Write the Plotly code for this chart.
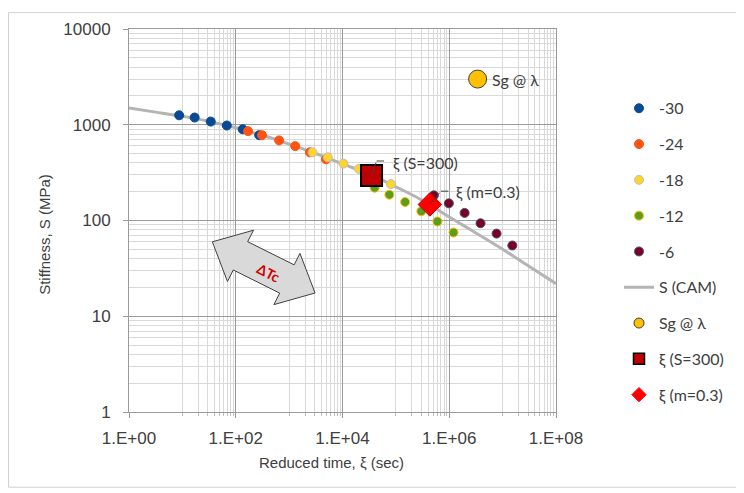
import numpy as np
import plotly.graph_objects as go

# ---------------- data ----------------
temps = ["-30", "-24", "-18", "-12", "-6"]
xi_m30 = [8.7, 17, 34, 68, 135, 275]
S_m30 = [1255, 1190, 1080, 982, 898, 778]
xi_m24 = [170, 310, 650, 1300, 2450, 4900]
S_m24 = [857, 778, 686, 598, 515, 436]
xi_m18 = [2750, 5300, 10400, 20300, 40000, 80500]
S_m18 = [515, 457, 393, 346, 290, 240]
xi_m12 = [40000, 75500, 149000, 300000, 600000, 1200000]
S_m12 = [220, 186, 156, 125, 97.7, 74.9]
xi_m6 = [515000, 984000, 1940000, 3860000, 7700000, 15200000]
S_m6 = [183, 151, 120, 93.6, 73, 54.8]

cam_xi = [1, 3.16, 10, 31.6, 100, 316, 1e3, 3.16e3, 1e4, 3.16e4, 1e5, 3.16e5,
          1e6, 3.16e6, 1e7, 3.16e7, 1e8]
cam_S = [1493, 1355, 1225, 1084, 931, 776, 628, 501, 390, 305, 225, 162,
         109, 74.1, 50.1, 33.1, 21.9]

sg_xi = [3.4e6]
sg_S = [3000]
s300_xi = [35000]
s300_S = [295]
m03_xi = [433000]
m03_S = [147]

x_tickvals = [1, 1e2, 1e4, 1e6, 1e8]
x_ticktext = ["1.E+00", "1.E+02", "1.E+04", "1.E+06", "1.E+08"]
y_tickvals = [1, 10, 100, 1000, 10000]
y_ticktext = ["1", "10", "100", "1000", "10000"]

# minor grid positions
x_minor = [k * 10.0 ** e for e in (1, 3, 5, 7) for k in range(1, 10)]
y_minor = [k * 10.0 ** e for e in (0, 1, 2, 3) for k in range(2, 10)]

# ---------------- styles ----------------
cols = {"-30": "#0a4a94", "-24": "#ff5311", "-18": "#ffd42a",
        "-12": "#5b9e1f", "-6": "#7a0026"}
edge = {"-30": "#0a4a94", "-24": "#ff5311", "-18": "#bfbfbf",
        "-12": "#ffc000", "-6": "#44546a"}
series = {"-30": (xi_m30, S_m30), "-24": (xi_m24, S_m24),
          "-18": (xi_m18, S_m18), "-12": (xi_m12, S_m12),
          "-6": (xi_m6, S_m6)}

LEG_FONT = dict(family="Lato", size=16, color="#404040")
AX_FONT = dict(family="Liberation Sans", size=17, color="#404040")

fig = go.Figure()

# CAM line (drawn behind points)
fig.add_trace(go.Scatter(x=cam_xi, y=cam_S, mode="lines", line_shape="spline",
                         line=dict(color="#b4b4b4", width=3), showlegend=False,
                         hoverinfo="skip"))

for t in temps:
    xs, ys = series[t]
    fig.add_trace(go.Scatter(x=xs, y=ys, mode="markers", showlegend=False,
                             marker=dict(size=9, color=cols[t],
                                         line=dict(color=edge[t], width=1))))

fig.add_trace(go.Scatter(x=sg_xi, y=sg_S, mode="markers", showlegend=False,
                         marker=dict(size=18, color="#ffc000",
                                     line=dict(color="#404040", width=1))))
fig.add_trace(go.Scatter(x=s300_xi, y=s300_S, mode="markers", showlegend=False,
                         marker=dict(size=21, symbol="square", color="#c00000",
                                     line=dict(color="#000000", width=2))))
fig.add_trace(go.Scatter(x=m03_xi, y=m03_S, mode="markers", showlegend=False,
                         marker=dict(size=18, symbol="diamond", color="#ff0000",
                                     line=dict(color="#c00000", width=1))))

# legend-only entries
for t in temps:
    fig.add_trace(go.Scatter(x=[None], y=[None], mode="markers", name=t,
                             legendgroup=t,
                             marker=dict(size=9, color=cols[t],
                                         line=dict(color=edge[t], width=1))))
fig.add_trace(go.Scatter(x=[None], y=[None], mode="lines", name="S (CAM)",
                         legendgroup="cam", line=dict(color="#b4b4b4", width=3)))
fig.add_trace(go.Scatter(x=[None], y=[None], mode="markers", name="Sg @ λ",
                         legendgroup="sg",
                         marker=dict(size=10, color="#ffc000",
                                     line=dict(color="#404040", width=1))))
fig.add_trace(go.Scatter(x=[None], y=[None], mode="markers", name="ξ (S=300)",
                         legendgroup="s300",
                         marker=dict(size=11, symbol="square", color="#c00000",
                                     line=dict(color="#000000", width=1.5))))
fig.add_trace(go.Scatter(x=[None], y=[None], mode="markers", name="ξ (m=0.3)",
                         legendgroup="m03",
                         marker=dict(size=11, symbol="diamond", color="#ff0000",
                                     line=dict(color="#ff0000", width=1))))

# ---------------- layout geometry (page pixel coordinates) ----------------
PAGE_W, PAGE_H = 744, 493
OFF = 8                      # default body margin of the html page
W, H = PAGE_W - OFF, PAGE_H - OFF
L, R, T, B = 129, 556, 25, 412   # plot area in page pixels


def to_paper(px, py):
    return (px - L) / (R - L), (B - py) / (B - T)


shapes = []
# outer chart border
x0, y0 = to_paper(8.5, 488)
x1, y1 = to_paper(737, 8.5)
shapes.append(dict(type="rect", xref="paper", yref="paper", x0=x0, y0=y0,
                   x1=x1, y1=y1, line=dict(color="#d0d0d0", width=1),
                   layer="below"))

# Delta Tc double block arrow
cx, cy = 263.7, 265.9
ang = np.arctan2(51.7, 102.7)
ca, sa = np.cos(ang), np.sin(ang)
local = [(-57.5, 0), (-26, -29), (-26, -16), (26, -16), (26, -29), (57.5, 0),
         (26, 29), (26, 16), (-26, 16), (-26, 29)]
path = ""
for i, (u, v) in enumerate(local):
    px = cx + u * ca - v * sa
    py = cy + u * sa + v * ca
    X, Y = to_paper(px, py)
    path += ("M" if i == 0 else "L") + f"{X:.5f},{Y:.5f} "
path += "Z"
shapes.append(dict(type="path", xref="paper", yref="paper", path=path,
                   fillcolor="#d9d9d9", line=dict(color="#404040", width=1)))

annotations = []
tx, ty = to_paper(268, 270.7)
annotations.append(dict(x=tx, y=ty, xref="paper", yref="paper", text="<b>ΔTc</b>",
                        showarrow=False, textangle=27, xanchor="center",
                        yanchor="middle",
                        font=dict(family="Lato", size=14, color="#d00000")))

# axis titles
tx, ty = to_paper(331, 463)
annotations.append(dict(x=tx, y=ty, xref="paper", yref="paper",
                        text="Reduced time, ξ (sec)", showarrow=False,
                        xanchor="center", yanchor="middle",
                        font=dict(family="Liberation Sans", size=15, color="#404040")))
tx, ty = to_paper(45, 233)
annotations.append(dict(x=tx, y=ty, xref="paper", yref="paper",
                        text="Stiffness, S (MPa)", showarrow=False, textangle=-90,
                        xanchor="center", yanchor="middle",
                        font=dict(family="Liberation Sans", size=15, color="#404040")))

lg = np.log10
# Sg label
annotations.append(dict(x=lg(sg_xi[0]), y=lg(sg_S[0]), xref="x", yref="y",
                        text="Sg @ λ", showarrow=False, xanchor="left",
                        yanchor="middle", xshift=12, font=LEG_FONT))


def leader(xv, yv, dx1, dy1, dx2, label, tdx, tdy):
    a = lg(xv)
    b = lg(yv)
    annotations.append(dict(x=a, y=b, xref="x", yref="y", text="",
                            showarrow=True, arrowhead=0, arrowwidth=1,
                            arrowcolor="#404040", axref="pixel", ayref="pixel",
                            ax=dx1, ay=dy1, standoff=0, startstandoff=0))
    annotations.append(dict(x=a, y=b, xref="x", yref="y", text="",
                            showarrow=True, arrowhead=0, arrowwidth=1,
                            arrowcolor="#404040", xshift=dx1, yshift=-dy1,
                            ax=dx2, ay=0, standoff=0, startstandoff=0))
    annotations.append(dict(x=a, y=b, xref="x", yref="y", text=label,
                            showarrow=False, xanchor="left", yanchor="middle",
                            xshift=tdx, yshift=tdy, font=LEG_FONT))


leader(s300_xi[0], s300_S[0], 5, -14.5, 9, "ξ (S=300)", 19, 13)
leader(m03_xi[0], m03_S[0], 11, -13.3, 9, "ξ (m=0.3)", 24, 12)

fig.update_layout(
    width=W, height=H, autosize=False,
    margin=dict(l=L - OFF, r=PAGE_W - R, t=T - OFF, b=PAGE_H - B, pad=0),
    plot_bgcolor="white", paper_bgcolor="white",
    shapes=shapes, annotations=annotations,
    legend=dict(x=(619 - L) / (R - L), xanchor="left",
                y=(B - 88) / (B - T), yanchor="top",
                font=LEG_FONT, tracegroupgap=12, bgcolor="rgba(0,0,0,0)",
                traceorder="grouped"),
    xaxis=dict(type="log", range=[0, 8], tickmode="array", tickvals=x_tickvals,
               ticktext=x_ticktext, showgrid=True, gridcolor="#9a9a9a",
               gridwidth=1, showline=True, linecolor="#9a9a9a", mirror=True,
               ticks="outside", ticklen=5, tickcolor="#9a9a9a", zeroline=False,
               tickfont=AX_FONT, ticklabelstandoff=6,
               minor=dict(tickmode="array", tickvals=x_minor, showgrid=True,
                          gridcolor="#d9d9d9", gridwidth=1, ticks="outside",
                          ticklen=3, tickcolor="#bfbfbf")),
    yaxis=dict(type="log", range=[0, 4], tickmode="array", tickvals=y_tickvals,
               ticktext=y_ticktext, showgrid=True, gridcolor="#9a9a9a",
               gridwidth=1, showline=True, linecolor="#9a9a9a", mirror=True,
               ticks="outside", ticklen=5, tickcolor="#9a9a9a", zeroline=False,
               tickfont=AX_FONT, ticklabelstandoff=9,
               minor=dict(tickmode="array", tickvals=y_minor, showgrid=True,
                          gridcolor="#d9d9d9", gridwidth=1, ticks="")),
)

fig.write_html("out.html")
